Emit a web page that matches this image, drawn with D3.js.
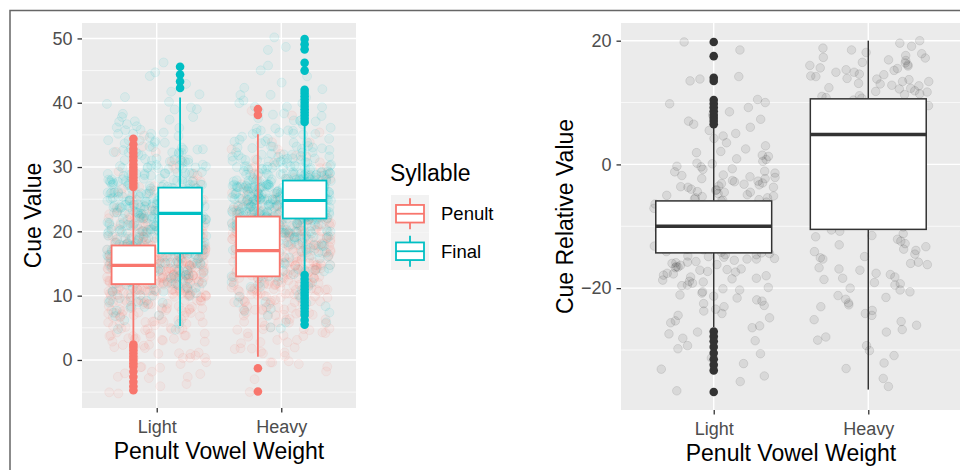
<!DOCTYPE html>
<html>
<head>
<meta charset="utf-8">
<script src="https://cdn.jsdelivr.net/npm/d3@7"></script>
<style>
body { margin: 0; background: #fff; }
svg { display: block; font-family: "Liberation Sans", Arial, sans-serif; }
</style>
</head>
<body>
<svg id="chart" width="960" height="470"></svg>
<script>
const weights = ['Light', 'Heavy'];
const syllables = ['Penult', 'Final'];
const colours = ['#F8766D', '#00BFC4'];

const leftTicks = [0, 10, 20, 30, 40, 50];
const leftMinor = [-5, 5, 15, 25, 35, 45];
const rightTicks = [-20, 0, 20];
const rightMinor = [-30, -10, 10];

// box stats: [lower whisker, q1, median, q3, upper whisker]
const lightPenultBox = [3.0, 11.8, 14.7, 17.8, 26.4];
const lightFinalBox = [5.3, 16.6, 22.8, 26.8, 40.8];
const heavyPenultBox = [0.5, 13.0, 17.0, 22.3, 35.1];
const heavyFinalBox = [13.7, 22.0, 24.8, 27.9, 36.5];
const lightRelBox = [-26.3, -14.3, -10.0, -5.9, 5.9];
const heavyRelBox = [-36.4, -10.5, 4.85, 10.6, 20.0];

const lightPenultOut = [26.9, 27.4, 27.9, 28.4, 28.9, 29.4, 29.9, 30.4, 31.0, 31.6, 32.2, 32.8, 33.5, 34.4,
  2.4, 2.0, 1.5, 1.0, 0.5, 0.0, -0.5, -1.0, -1.8, -2.6, -3.4, -4.1, -4.7];
const lightFinalOut = [42.3, 43.3, 44.4, 45.6];
const heavyPenultOut = [38.1, 39.0, -1.3, -4.9];
const heavyFinalOut = [37.0, 37.5, 38.0, 38.5, 39.0, 39.5, 40.0, 40.5, 41.0, 41.5, 42.0, 45.0, 46.2, 48.3, 49.1, 49.9,
  13.2, 12.6, 12.0, 11.5, 11.0, 10.5, 10.0, 9.5, 9.0, 8.5, 8.0, 7.5, 7.0, 6.2, 5.5];
const lightRelOut = [19.8, 17.5, 14.0, 13.5, 10.4, 9.8, 9.2, 8.6, 8.0, 7.5, 7.0, 6.5,
  -27.0, -27.8, -28.6, -29.5, -30.5, -31.5, -32.4, -33.3, -36.8];
const heavyRelOut = [];

// observations per whole cue value (left plot), counted from the lowest value up
const lightPenultFrom = -5;
const lightPenultCounts = [2, 2, 3, 3, 4, 5, 5, 6, 8, 9, 10, 11, 13, 15, 18, 22, 27, 33, 38, 42, 42, 40, 35, 28,
  22, 18, 14, 11, 9, 7, 6, 5, 4, 3, 3, 2, 2, 2, 1, 1, 1];
const lightFinalFrom = 5;
const lightFinalCounts = [2, 2, 3, 4, 5, 6, 8, 10, 12, 14, 16, 18, 20, 22, 23, 24, 25, 27, 28, 27, 25, 22, 20, 17,
  15, 13, 11, 9, 8, 7, 6, 5, 4, 3, 3, 2, 2, 1, 1, 1, 1, 1];
const heavyPenultFrom = -5;
const heavyPenultCounts = [1, 0, 1, 1, 2, 3, 4, 4, 5, 6, 7, 8, 9, 10, 12, 14, 16, 18, 20, 22, 24, 25, 25, 24, 23,
  21, 19, 17, 14, 12, 10, 8, 7, 6, 5, 4, 3, 3, 2, 2, 1, 0, 0, 1, 1];
const heavyFinalFrom = 5;
const heavyFinalCounts = [2, 2, 2, 3, 3, 3, 4, 4, 5, 6, 7, 9, 11, 14, 17, 22, 28, 34, 38, 41, 42, 40, 36, 30, 24,
  19, 15, 12, 10, 8, 7, 6, 5, 4, 4, 3, 3, 2, 1, 1, 1, 1, 0, 1, 1, 1];

// relative cue values (right plot)
const lightRelPts = [19.8, 18.5, 14.2, 13.8, 13.5, 10.5, 10.0, 9.8, 9.2, 8.5, 8.0, 7.3, 7.0, 6.5, 6.0, 5.5, 5.0,
  4.6, 4.2, 3.5, 3.0, 2.5, 2.1, 1.9, 1.5, 1.3, 0.9, 0.8, 0.5, 0.2, 0.1, -0.3, -0.4, -0.7, -0.8, -1.1, -1.2,
  -1.4, -1.7, -1.8, -2.0, -2.1, -2.3, -2.3, -2.6, -2.7, -2.8, -3.0, -3.1, -3.2, -3.3, -3.5, -3.6, -3.7, -3.7,
  -4.0, -4.1, -4.2, -4.4, -4.5, -4.5, -4.7, -4.9, -5.0, -5.1, -5.2, -5.4, -5.4, -5.6, -5.7, -5.8, -5.9, -6.1,
  -6.4, -6.6, -6.9, -7.1, -7.3, -7.6, -7.8, -8.1, -8.3, -8.4, -8.7, -8.9, -9.1, -9.4, -9.6, -9.8, -10.0,
  -10.3, -10.5, -10.6, -10.9, -11.1, -11.2, -11.5, -11.7, -11.9, -12.0, -12.3, -12.5, -12.7, -12.8, -13.1,
  -13.2, -13.5, -13.7, -13.8, -14.1, -14.2, -14.3, -14.4, -14.6, -14.6, -14.8, -14.9, -15.0, -15.2, -15.3,
  -15.3, -15.5, -15.7, -15.8, -15.9, -16.0, -16.2, -16.3, -16.5, -16.6, -16.7, -16.9, -17.0, -17.1, -17.3,
  -17.4, -17.6, -17.7, -17.9, -18.0, -18.2, -18.4, -18.5, -18.7, -18.9, -19.0, -19.2, -19.5, -19.6, -19.9,
  -20.1, -20.3, -20.6, -20.8, -21.1, -21.3, -21.6, -21.9, -22.1, -22.5, -22.8, -23.0, -23.4, -23.7, -24.1,
  -24.4, -24.8, -25.3, -25.6, -26.1, -26.4, -27.1, -27.4, -28.1, -28.5, -29.3, -29.8, -30.6, -31.3, -32.2,
  -33.1, -34.2, -35.1, -36.6];
const heavyRelPts = [20.0, 19.6, 19.1, 18.8, 18.5, 18.1, 17.9, 17.6, 17.3, 17.2, 16.9, 16.8, 16.5, 16.4, 16.1,
  16.0, 15.9, 15.6, 15.5, 15.3, 15.2, 14.9, 14.9, 14.6, 14.5, 14.3, 14.2, 13.9, 13.8, 13.7, 13.4, 13.4, 13.1,
  13.0, 12.8, 12.7, 12.4, 12.3, 12.2, 11.9, 11.8, 11.7, 11.4, 11.3, 11.1, 11.0, 10.8, 10.7, 10.4, 9.8, 9.5,
  8.9, 8.3, 7.9, 7.3, 6.9, 6.5, 5.8, 5.4, 4.9, 4.3, 3.8, 3.5, 2.8, 2.5, 1.8, 1.5, 0.8, 0.4, -0.2, -0.6, -1.0,
  -1.7, -2.1, -2.6, -3.2, -3.5, -4.2, -4.5, -5.1, -5.7, -6.0, -6.7, -7.0, -7.6, -8.2, -8.5, -9.0, -9.7,
  -10.1, -10.6, -10.8, -11.2, -11.5, -11.7, -12.1, -12.4, -12.8, -13.0, -13.3, -13.7, -13.9, -14.1, -14.5,
  -14.9, -15.1, -15.3, -15.8, -16.0, -16.2, -16.7, -16.9, -17.1, -17.6, -17.8, -18.2, -18.4, -18.6, -19.1,
  -19.3, -19.5, -20.0, -20.3, -20.6, -21.2, -21.5, -21.8, -22.4, -22.7, -23.0, -23.6, -24.1, -24.4, -25.1,
  -25.4, -26.0, -26.7, -27.1, -27.9, -28.4, -29.3, -30.1, -30.9, -32.1, -33.0, -34.6, -35.9];

const leftGroups = [
  {weight: 'Light', syl: 0, box: lightPenultBox, out: lightPenultOut, from: lightPenultFrom, counts: lightPenultCounts},
  {weight: 'Light', syl: 1, box: lightFinalBox, out: lightFinalOut, from: lightFinalFrom, counts: lightFinalCounts},
  {weight: 'Heavy', syl: 0, box: heavyPenultBox, out: heavyPenultOut, from: heavyPenultFrom, counts: heavyPenultCounts},
  {weight: 'Heavy', syl: 1, box: heavyFinalBox, out: heavyFinalOut, from: heavyFinalFrom, counts: heavyFinalCounts}
];
const rightGroups = [
  {weight: 'Light', box: lightRelBox, out: lightRelOut, pts: lightRelPts},
  {weight: 'Heavy', box: heavyRelBox, out: heavyRelOut, pts: heavyRelPts}
];

const svg = d3.select('#chart');
const font = '"Liberation Sans", Arial, sans-serif';

// fixed jitter offsets in [-0.5, 0.5), like position_jitter but the same on every load
function jitter (i) {
    let h = Math.imul(i + 0x9e3779b9, 0x85ebca6b);
    h ^= h >>> 13;
    h = Math.imul(h, 0xc2b2ae35);
    h ^= h >>> 16;
    return (h >>> 0) / 4294967296 - 0.5;
}

function panel (opts) {
    const {x0, x1, y0, y1, domain, ticks, minor} = opts;
    const x = d3.scalePoint().domain(weights).range([x0, x1]).padding(0.6);
    const y = d3.scaleLinear().domain(domain).range([y1, y0]);
    const g = svg.append('g');

    g.append('rect')
        .attr('x', x0).attr('y', y0)
        .attr('width', x1 - x0).attr('height', y1 - y0)
        .attr('fill', '#EBEBEB');
    g.selectAll('.minor').data(minor).enter().append('line')
        .attr('x1', x0).attr('x2', x1)
        .attr('y1', d => y(d)).attr('y2', d => y(d))
        .attr('stroke', '#fff').attr('stroke-width', 0.7);
    g.selectAll('.major').data(ticks).enter().append('line')
        .attr('x1', x0).attr('x2', x1)
        .attr('y1', d => y(d)).attr('y2', d => y(d))
        .attr('stroke', '#fff').attr('stroke-width', 1.4);
    g.selectAll('.vmajor').data(weights).enter().append('line')
        .attr('x1', d => x(d)).attr('x2', d => x(d))
        .attr('y1', y0).attr('y2', y1)
        .attr('stroke', '#fff').attr('stroke-width', 1.4);

    const yAxis = g.append('g')
        .attr('transform', `translate(${x0},0)`)
        .call(d3.axisLeft(y).tickValues(ticks).tickSize(4.5).tickPadding(5));
    const xAxis = g.append('g')
        .attr('transform', `translate(0,${y1})`)
        .call(d3.axisBottom(x).tickSize(4.5).tickPadding(7.5));
    [yAxis, xAxis].forEach(a => {
        a.select('.domain').remove();
        a.selectAll('line').attr('stroke', '#333').attr('stroke-width', 1.3);
        a.selectAll('text').attr('fill', '#4D4D4D')
            .style('font-size', '18px').style('font-family', font);
    });
    return {x, y, g, step: x.step()};
}

function drawBox (g, cx, w, y, box, out, colour, lw, mw, r) {
    const [lo, q1, med, q3, hi] = box;
    g.append('line').attr('x1', cx).attr('x2', cx).attr('y1', y(hi)).attr('y2', y(q3))
        .attr('stroke', colour).attr('stroke-width', lw);
    g.append('line').attr('x1', cx).attr('x2', cx).attr('y1', y(q1)).attr('y2', y(lo))
        .attr('stroke', colour).attr('stroke-width', lw);
    g.append('rect')
        .attr('x', cx - w / 2).attr('y', y(q3))
        .attr('width', w).attr('height', y(q1) - y(q3))
        .attr('fill', '#fff').attr('stroke', colour).attr('stroke-width', lw);
    g.append('line').attr('x1', cx - w / 2).attr('x2', cx + w / 2)
        .attr('y1', y(med)).attr('y2', y(med))
        .attr('stroke', colour).attr('stroke-width', mw);
    g.selectAll(null).data(out).enter().append('circle')
        .attr('cx', cx).attr('cy', d => y(d)).attr('r', r)
        .attr('fill', colour);
}

// LEFT PANEL

const L = panel({x0: 82, x1: 356, y0: 23, y1: 408, domain: [-7.47, 52.4], ticks: leftTicks, minor: leftMinor});

leftGroups.forEach((grp, k) => {
    const values = grp.counts.flatMap((n, j) => d3.range(n).map(() => grp.from + j));
    const seed = k * 10007;
    // whole-number data: jittered 0.4 of a category across and 0.4 of a unit up or down
    L.g.append('g').selectAll('circle').data(values).enter().append('circle')
        .attr('cx', (d, i) => L.x(grp.weight) + jitter(seed + 2 * i) * 0.8 * L.step)
        .attr('cy', (d, i) => L.y(d + jitter(seed + 2 * i + 1) * 0.8))
        .attr('r', 4.5)
        .attr('fill', colours[grp.syl]).attr('fill-opacity', 0.065)
        .attr('stroke', colours[grp.syl]).attr('stroke-opacity', 0.09);
});
leftGroups.forEach(grp => {
    const cx = L.x(grp.weight) + (grp.syl === 0 ? -1 : 1) * 0.1875 * L.step;
    drawBox(L.g, cx, 0.35 * L.step, L.y, grp.box, grp.out, colours[grp.syl], 1.8, 3.2, 4.3);
});

L.g.append('text')
    .attr('transform', 'translate(40.5,215.5) rotate(-90)')
    .attr('text-anchor', 'middle').style('font-size', '23px')
    .text('Cue Value');
L.g.append('text')
    .attr('x', 219).attr('y', 459)
    .attr('text-anchor', 'middle').style('font-size', '23px')
    .text('Penult Vowel Weight');

// LEGEND

const leg = svg.append('g');
leg.append('text').attr('x', 390).attr('y', 181).style('font-size', '23px').text('Syllable');
syllables.forEach((s, i) => {
    const top = 195 + i * 37.5;
    const cy = top + 18.75;
    leg.append('rect').attr('x', 391).attr('y', top).attr('width', 38).attr('height', 37.5).attr('fill', '#F2F2F2');
    leg.append('line').attr('x1', 410).attr('x2', 410).attr('y1', cy - 15.5).attr('y2', cy + 15.5)
        .attr('stroke', colours[i]).attr('stroke-width', 1.8);
    leg.append('rect').attr('x', 396).attr('y', cy - 8.8).attr('width', 28).attr('height', 17.6)
        .attr('fill', '#fff').attr('stroke', colours[i]).attr('stroke-width', 1.8);
    leg.append('line').attr('x1', 396).attr('x2', 424).attr('y1', cy).attr('y2', cy)
        .attr('stroke', colours[i]).attr('stroke-width', 1.8);
    leg.append('text').attr('x', 441).attr('y', cy).attr('dy', '0.36em')
        .style('font-size', '18.5px').text(s);
});

// RIGHT PANEL

const R = panel({x0: 621, x1: 961, y0: 23, y1: 410, domain: [-39.7, 22.86], ticks: rightTicks, minor: rightMinor});

rightGroups.forEach((grp, k) => {
    const seed = 50000 + k * 997;
    R.g.append('g').selectAll('circle').data(grp.pts).enter().append('circle')
        .attr('cx', (d, i) => R.x(grp.weight) + jitter(seed + i) * 0.8 * R.step)
        .attr('cy', d => R.y(d))
        .attr('r', 4.3)
        .attr('fill', '#000').attr('fill-opacity', 0.08)
        .attr('stroke', '#000').attr('stroke-opacity', 0.09);
});
rightGroups.forEach(grp => {
    drawBox(R.g, R.x(grp.weight), 0.75 * R.step, R.y, grp.box, grp.out, '#333', 1.5, 3.5, 4.3);
});

R.g.append('text')
    .attr('transform', 'translate(573,216.5) rotate(-90)')
    .attr('text-anchor', 'middle').style('font-size', '23px')
    .text('Cue Relative Value');
R.g.append('text')
    .attr('x', 791).attr('y', 461)
    .attr('text-anchor', 'middle').style('font-size', '23px')
    .text('Penult Vowel Weight');

// FRAME

svg.append('path')
    .attr('d', 'M10,470V10.5H960')
    .attr('fill', 'none').attr('stroke', '#666').attr('stroke-width', 1.5);
</script>
</body>
</html>
